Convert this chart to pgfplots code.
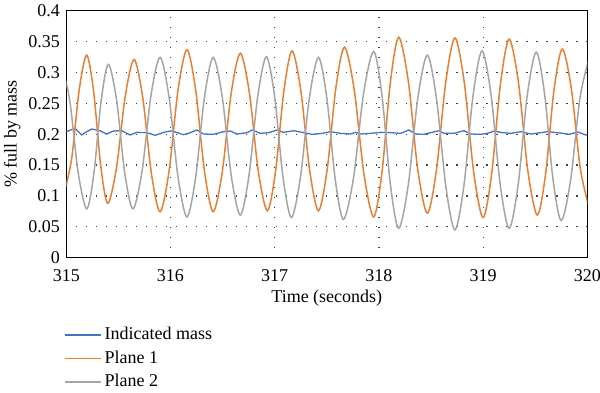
\documentclass[border=0pt]{standalone}
\usepackage{pgfplots}
\pgfplotsset{compat=1.18}
\usepackage{fontspec}
\setmainfont{Liberation Serif}
\definecolor{cblue}{HTML}{4472C4}
\definecolor{corange}{HTML}{ED7D31}
\definecolor{cgray}{HTML}{A5A5A5}
\begin{document}
\fontsize{9pt}{11pt}\selectfont
\begin{tikzpicture}
\useasboundingbox (-33.15pt,-67.15pt) rectangle (266.85pt,128.85pt);
\begin{axis}[
  at={(0,0)}, anchor=south west,
  scale only axis, width=260.5pt, height=123.5pt,
  xmin=315, xmax=320, ymin=0, ymax=0.4,
  xtick={315,316,317,318,319,320},
  ytick={0,0.05,0.1,0.15,0.2,0.25,0.3,0.35,0.4},
  yticklabels={0,0.05,0.1,0.15,0.2,0.25,0.3,0.35,0.4},
  xticklabels={315,316,317,318,319,320},
  major tick length=0pt,
  tick label style={font=\fontsize{9pt}{11pt}\selectfont},
  xticklabel style={yshift=-2.5pt},
  grid=major,
  major grid style={black!75, line width=0.6pt, dash pattern=on 0.6pt off 4.4pt},
  axis line style={black, line width=0.7pt},
  xlabel={Time (seconds)},
  ylabel={\% full by mass},
  xlabel style={at={(axis description cs:0.5,-0.165)}, anchor=center},
  ylabel style={at={(axis description cs:-0.104,0.5)}, anchor=center, rotate=0},
  label style={font=\fontsize{9pt}{11pt}\selectfont},
  legend style={draw=none, fill=none, at={(axis description cs:-0.005,-0.268)}, anchor=north west,
    inner sep=0pt, row sep=1.2pt, font=\fontsize{9pt}{11pt}\selectfont,
    nodes={inner sep=1.5pt}},
  legend cell align=left,
  legend image code/.code={\draw[#1, line width=0.8pt] (0pt,0pt) -- (14.5pt,0pt); \path (0pt,0pt) -- (18pt,0pt);},
]
\addplot[cblue, line width=0.65pt] coordinates {
(315.0,0.2041)(315.084,0.2095)(315.148,0.1987)(315.18,0.2025)(315.244,0.2084)(315.324,0.2057)(315.388,0.2003)(315.452,0.2052)(315.532,0.2057)(315.613,0.1987)(315.677,0.2030)(315.773,0.2025)(315.853,0.1982)(315.933,0.2030)(316.0,0.2052)(316.045,0.2036)(316.125,0.1992)(316.19,0.2025)(316.254,0.2068)(316.317,0.2003)(316.413,0.1998)(316.51,0.2041)(316.574,0.2052)(316.638,0.2003)(316.735,0.2025)(316.783,0.2068)(316.862,0.2014)(316.942,0.2025)(317.023,0.2068)(317.087,0.2030)(317.183,0.2057)(317.279,0.2025)(317.36,0.1998)(317.456,0.2014)(317.535,0.2041)(317.632,0.2014)(317.728,0.2003)(317.776,0.2030)(317.824,0.2003)(317.920,0.2014)(318.016,0.2030)(318.113,0.2025)(318.209,0.2014)(318.288,0.2068)(318.353,0.2003)(318.433,0.1998)(318.497,0.2025)(318.577,0.2057)(318.625,0.2014)(318.721,0.2014)(318.817,0.2057)(318.882,0.2003)(318.978,0.1998)(319.042,0.2014)(319.106,0.2052)(319.187,0.2025)(319.266,0.2014)(319.363,0.2041)(319.459,0.2003)(319.555,0.2025)(319.619,0.2041)(319.683,0.2030)(319.763,0.2014)(319.827,0.1998)(319.908,0.2036)(319.987,0.1987)(320.0,0.1990)
};
\addlegendentry{Indicated mass}
\addplot[corange, line width=0.75pt, smooth] coordinates {
(314.98,0.105)
(315.052,0.161)(315.124,0.272)
(315.196,0.328)
(315.263,0.268)(315.331,0.148)
(315.398,0.088)
(315.482,0.146)(315.567,0.263)
(315.651,0.321)
(315.734,0.259)(315.817,0.136)
(315.90,0.0745)
(315.986,0.140)(316.072,0.271)
(316.158,0.337)
(316.242,0.271)(316.326,0.140)
(316.41,0.0745)
(316.497,0.139)(316.583,0.267)
(316.67,0.331)
(316.757,0.267)(316.843,0.140)
(316.93,0.076)
(317.009,0.141)(317.088,0.270)
(317.167,0.335)
(317.251,0.270)(317.336,0.141)
(317.42,0.076)
(317.503,0.142)(317.587,0.275)
(317.67,0.341)
(317.763,0.272)(317.857,0.135)
(317.95,0.066)
(318.03,0.139)(318.11,0.284)
(318.19,0.357)
(318.282,0.286)(318.373,0.143)
(318.465,0.072)
(318.553,0.143)(318.642,0.285)
(318.73,0.356)
(318.82,0.283)(318.91,0.138)
(319.0,0.065)
(319.083,0.137)(319.167,0.282)
(319.25,0.354)
(319.34,0.283)(319.43,0.140)
(319.52,0.069)
(319.60,0.136)(319.68,0.271)
(319.76,0.338)
(319.847,0.2735)(319.933,0.1445)
(320.02,0.080)
};
\addlegendentry{Plane 1}
\addplot[cgray, line width=0.75pt, smooth] coordinates {
(314.95,0.315)
(315.032,0.256)(315.114,0.138)
(315.196,0.079)
(315.265,0.137)(315.335,0.255)
(315.404,0.313)
(315.483,0.255)(315.561,0.137)
(315.64,0.079)
(315.727,0.140)(315.813,0.263)
(315.90,0.3245)
(315.986,0.260)(316.072,0.131)
(316.158,0.066)
(316.242,0.131)(316.326,0.260)
(316.41,0.3245)
(316.497,0.260)(316.583,0.133)
(316.67,0.069)
(316.753,0.133)(316.837,0.261)
(316.92,0.3255)
(317.0,0.260)(317.08,0.130)
(317.16,0.065)
(317.247,0.130)(317.333,0.259)
(317.42,0.3245)
(317.50,0.259)(317.58,0.128)
(317.66,0.062)
(317.757,0.130)(317.853,0.266)
(317.95,0.334)
(318.03,0.262)(318.11,0.119)
(318.19,0.0475)
(318.282,0.118)(318.373,0.258)
(318.465,0.328)
(318.553,0.257)(318.642,0.116)
(318.73,0.045)
(318.817,0.118)(318.903,0.262)
(318.99,0.335)
(319.077,0.263)(319.163,0.120)
(319.25,0.0475)
(319.337,0.119)(319.423,0.262)
(319.51,0.333)
(319.59,0.265)(319.67,0.128)
(319.75,0.060)
(319.84,0.126)(319.93,0.259)
(320.02,0.325)
};
\addlegendentry{Plane 2}
\end{axis}
\end{tikzpicture}
\end{document}
